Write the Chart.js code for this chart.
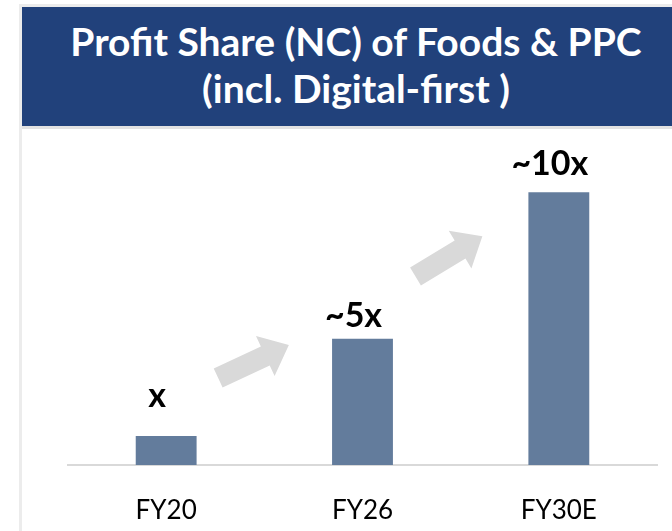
<!DOCTYPE html>
<html>
<head>
<meta charset="utf-8">
<script src="https://cdn.jsdelivr.net/npm/chart.js@4/dist/chart.umd.min.js"></script>
<style>
  html, body { margin: 0; padding: 0; background: #fff; overflow: hidden; }
  #wrap { position: relative; width: 672px; height: 531px; }
  #frame { position: absolute; left: 19px; top: 4px; width: 700px; height: 600px;
    border-left: 3px solid #ececec; border-top: 3px solid #ececec; }
  #banner { position: absolute; left: 22px; top: 7px; width: 668px; height: 108px;
    padding-top: 11px; background: #21417b; border-bottom: 3px solid #e2e2e2;
    color: #fff; text-align: center; font-family: Lato, sans-serif; font-weight: bold;
    font-size: 39px; line-height: 47px; }
  #myChart { position: absolute; left: 0; top: 0; }
</style>
</head>
<body>
<div id="wrap">
  <div id="frame"></div>
  <div id="banner">Profit Share (NC) of Foods &amp; PPC<br>(incl. Digital-first )</div>
  <canvas id="myChart" width="672" height="531"></canvas>
</div>
<script>
var years = ['FY20', 'FY26', 'FY30E'];
var profitShare = [1, 4.35, 9.4];
var valueLabels = ['x', '~5x', '~10x'];

var barColor = '#637c9c';
var labelGap = [29, 12, 17];

// grey block arrows between the bars
var arrows = [
  { from: 0, dx: 52, v: 3.0, deg: -25 },
  { from: 1, dx: 53, v: 6.5, deg: -31 }
];

function drawArrow(ctx, x, y, deg, len, shaftW, headW, headL) {
  ctx.save();
  ctx.translate(x, y);
  ctx.rotate(deg * Math.PI / 180);
  ctx.beginPath();
  ctx.moveTo(0, -shaftW / 2);
  ctx.lineTo(len - headL, -shaftW / 2);
  ctx.lineTo(len - headL, -headW / 2);
  ctx.lineTo(len, 0);
  ctx.lineTo(len - headL, headW / 2);
  ctx.lineTo(len - headL, shaftW / 2);
  ctx.lineTo(0, shaftW / 2);
  ctx.closePath();
  ctx.fillStyle = '#d9d9d9';
  ctx.fill();
  ctx.restore();
}

var extras = {
  id: 'extras',
  beforeDatasetsDraw: function (chart) {
    var ctx = chart.ctx;
    var xs = chart.scales.x, ys = chart.scales.y;
    arrows.forEach(function (a) {
      drawArrow(ctx, xs.getPixelForValue(a.from) + a.dx, ys.getPixelForValue(a.v), a.deg, 78, 21, 44, 26);
    });
  },
  afterDatasetsDraw: function (chart) {
    var ctx = chart.ctx;
    var bars = chart.getDatasetMeta(0).data;
    ctx.save();
    ctx.font = 'bold 34px Lato';
    ctx.fillStyle = '#000';
    ctx.textAlign = 'center';
    ctx.textBaseline = 'alphabetic';
    bars.forEach(function (bar, i) {
      ctx.fillText(valueLabels[i], bar.x - 9, bar.y - labelGap[i]);
    });
    ctx.restore();
  }
};

const ctx = document.getElementById('myChart');
const myChart = new Chart(ctx, {
  type: 'bar',
  data: {
    labels: years,
    datasets: [{
      data: profitShare,
      backgroundColor: barColor,
      barPercentage: 0.31,
      categoryPercentage: 1
    }]
  },
  options: {
    responsive: false,
    animation: false,
    layout: { padding: { left: 68, right: 15, top: 140, bottom: 0 } },
    plugins: { legend: { display: false }, tooltip: { enabled: false } },
    scales: {
      x: {
        grid: { display: false, drawTicks: false },
        border: { display: true, color: '#d9d9d9', width: 2 },
        ticks: { color: '#000', padding: 30, font: { family: 'Lato', size: 26 } },
        afterFit: function (scale) { scale.height = 66; }
      },
      y: { display: false, min: 0, max: 11.2 }
    }
  },
  plugins: [extras]
});
</script>
</body>
</html>
